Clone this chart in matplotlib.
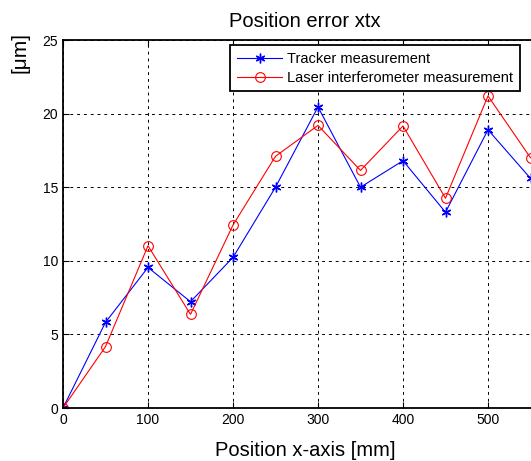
import matplotlib
matplotlib.use("Agg")
import matplotlib.pyplot as plt

plt.rcParams["font.family"] = ["Liberation Sans", "DejaVu Sans"]

# data
positions = [0, 50, 100, 150, 200, 250, 300, 350, 400, 450, 500, 550]
tracker = [0.0, 5.82, 9.55, 7.22, 10.23, 15.0, 20.45, 15.0, 16.8, 13.3, 18.9, 15.6]
laser = [0.0, 4.17, 11.02, 6.36, 12.43, 17.1, 19.2, 16.14, 19.16, 14.25, 21.2, 17.0]
xticks = [0, 100, 200, 300, 400, 500]
yticks = [0, 5, 10, 15, 20, 25]

fig = plt.figure(figsize=(5.31, 4.61), dpi=100)
# axes run a little past the right edge, like the cropped original
ax = fig.add_axes([63 / 531, 1 - 408 / 461, 484.5 / 531, 368 / 461])

ax.plot(positions, tracker, color="blue", lw=0.8, marker=(6, 2, 0), ms=7,
        mew=1.0, label="Tracker measurement")
ax.plot(positions, laser, color="red", lw=0.8, marker="o", ms=7,
        mfc="none", mew=0.8, label="Laser interferometer measurement")

ax.set_xlim(0, 570)
ax.set_ylim(0, 25)
ax.set_xticks(xticks)
ax.set_yticks(yticks)
ax.tick_params(direction="in", top=True, right=True, labelsize=10, length=4, width=0.8)
ax.grid(True, color="black", linestyle=(0, (3, 4)), lw=0.7)
for s in ax.spines.values():
    s.set_linewidth(1.3)

ax.set_title("Position error xtx", fontsize=14.5, pad=9.5)
ax.set_xlabel("Position x-axis [mm]", fontsize=14.5, labelpad=10)
ax.set_ylabel("[\u03bcm]", fontsize=15)
ax.yaxis.set_label_coords(-0.07, 0.967)

leg = ax.legend(loc="upper right", bbox_to_anchor=(0.943, 0.986), fontsize=10.5,
                fancybox=False, framealpha=1, edgecolor="black",
                handlelength=3.1, handletextpad=0.35, borderpad=0.45,
                labelspacing=0.35, borderaxespad=0)
leg.get_frame().set_linewidth(1.3)

fig.savefig("out.png", dpi=100)
